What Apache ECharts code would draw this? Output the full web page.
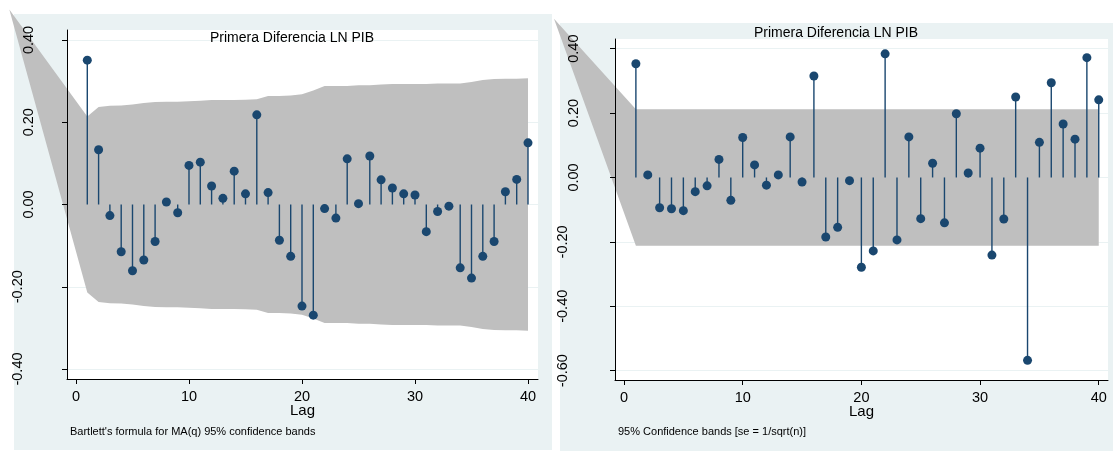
<!DOCTYPE html>
<html><head><meta charset="utf-8">
<script src="https://cdn.jsdelivr.net/npm/echarts@6/dist/echarts.min.js"></script>
<style>html,body{margin:0;padding:0;background:#fff}#c{width:1113px;height:454px}</style>
</head><body><div id="c"></div>
<script>
const FONT = '"Liberation Sans", Arial, sans-serif';
const chartTitle = 'Primera Diferencia LN PIB';
const noteLeft = "Bartlett's formula for MA(q) 95% confidence bands";
const noteRight = '95% Confidence bands [se = 1/sqrt(n)]';
const xName = 'Lag';
const lags = [1,2,3,4,5,6,7,8,9,10,11,12,13,14,15,16,17,18,19,20,21,22,23,24,25,26,27,28,29,30,31,32,33,34,35,36,37,38,39,40];
const acfValues = [0.351,0.133,-0.027,-0.115,-0.161,-0.135,-0.090,0.006,-0.020,0.095,0.103,0.045,0.015,0.081,0.026,0.218,0.029,-0.087,-0.126,-0.247,-0.269,-0.010,-0.033,0.111,0.002,0.118,0.060,0.040,0.026,0.023,-0.066,-0.017,-0.004,-0.154,-0.179,-0.126,-0.090,0.031,0.061,0.150];
const acfBand = [0.214,0.237,0.240,0.241,0.243,0.247,0.249,0.250,0.250,0.251,0.252,0.254,0.254,0.254,0.255,0.256,0.264,0.264,0.265,0.268,0.277,0.288,0.288,0.288,0.290,0.290,0.292,0.293,0.293,0.293,0.293,0.294,0.294,0.294,0.298,0.303,0.305,0.306,0.306,0.307];
const acfBandApex = [-5.9, 0.474];
const pacfValues = [0.353,0.008,-0.094,-0.097,-0.103,-0.044,-0.026,0.056,-0.071,0.124,0.039,-0.024,0.008,0.126,-0.014,0.315,-0.185,-0.155,-0.010,-0.279,-0.228,0.384,-0.194,0.126,-0.128,0.044,-0.141,0.198,0.014,0.091,-0.241,-0.129,0.250,-0.568,0.109,0.294,0.166,0.119,0.372,0.241];
const pacfBand = [0.212,0.212,0.212,0.212,0.212,0.212,0.212,0.212,0.212,0.212,0.212,0.212,0.212,0.212,0.212,0.212,0.212,0.212,0.212,0.212,0.212,0.212,0.212,0.212,0.212,0.212,0.212,0.212,0.212,0.212,0.212,0.212,0.212,0.212,0.212,0.212,0.212,0.212,0.212,0.212];
const pacfBandApex = [-5.9, 0.493];
const xTicks = [0,10,20,30,40];
const acfYTicks = [-0.4,-0.2,0,0.2,0.4];
const pacfYTicks = [-0.6,-0.4,-0.2,0,0.2,0.4];

const NAVY = '#1a476f';
const BG = '#eaf2f3';
const BAND = '#bfbfbf';

function bandSeries(gi, apex, band) {
  return {
    type: 'custom', xAxisIndex: gi, yAxisIndex: gi * 2, clip: false, silent: true, z: 1,
    data: [[0, 0]],
    renderItem: function (params, api) {
      const pts = [api.coord(apex)];
      for (let i = 0; i < lags.length; i++) pts.push(api.coord([lags[i], band[i]]));
      for (let i = lags.length - 1; i >= 0; i--) pts.push(api.coord([lags[i], -band[i]]));
      return { type: 'polygon', shape: { points: pts }, style: { fill: BAND } };
    }
  };
}
function stemSeries(gi, vals) {
  return {
    type: 'custom', xAxisIndex: gi, yAxisIndex: gi * 2, silent: true, z: 3,
    data: lags.map((l, i) => [l, vals[i]]),
    renderItem: function (params, api) {
      const a = api.coord([api.value(0), 0]);
      const b = api.coord([api.value(0), api.value(1)]);
      return { type: 'line', shape: { x1: a[0], y1: a[1], x2: b[0], y2: b[1] }, style: { stroke: NAVY, lineWidth: 1.4 } };
    }
  };
}
function dotSeries(gi, vals) {
  return {
    type: 'scatter', xAxisIndex: gi, yAxisIndex: gi * 2, silent: true, z: 4,
    symbolSize: 9, itemStyle: { color: NAVY, opacity: 1 },
    data: lags.map((l, i) => [l, vals[i]])
  };
}
function xAxisDef(gi, min, max) {
  return {
    type: 'value', gridIndex: gi, min: min, max: max, z: 5,
    name: xName, nameLocation: 'middle', nameGap: 24, nameMoveOverlap: false,
    nameTextStyle: { fontSize: 15, color: '#000', fontFamily: FONT },
    axisLine: { show: true, onZero: false, lineStyle: { color: '#000', width: 1 } },
    axisTick: { show: true, customValues: xTicks, length: 5, lineStyle: { color: '#000', width: 1 } },
    axisLabel: { show: true, customValues: xTicks, margin: 10, fontSize: 14.5, color: '#000', fontFamily: FONT },
    splitLine: { show: false }
  };
}
function yGridAxis(gi, min, max, ticks) {
  return {
    type: 'value', gridIndex: gi, min: min, max: max, position: 'left', z: 0,
    axisLine: { show: false }, axisLabel: { show: false },
    axisTick: { show: false, customValues: ticks },
    splitLine: { show: true, lineStyle: { color: BG, width: 1 } }
  };
}
function yLabelAxis(gi, min, max, ticks, margin) {
  return {
    type: 'value', gridIndex: gi, min: min, max: max, position: 'left', offset: 0, z: 5,
    axisLine: { show: true, onZero: false, lineStyle: { color: '#000', width: 1 } },
    axisTick: { show: true, customValues: ticks, length: 5, lineStyle: { color: '#000', width: 1 } },
    axisLabel: {
      show: true, customValues: ticks, rotate: 90, margin: margin,
      fontSize: 14.5, color: '#000', fontFamily: FONT,
      formatter: v => (v < 0 ? '{n|' + v.toFixed(2) + '}' : '{p|' + v.toFixed(2) + '}'),
      rich: {
        n: { fontSize: 14.5, color: '#000', fontFamily: FONT, padding: [0, 0, 11, 0] },
        p: { fontSize: 14.5, color: '#000', fontFamily: FONT }
      }
    },
    splitLine: { show: false }
  };
}

const chart = echarts.init(document.getElementById('c'), null, { renderer: 'canvas' });
chart.setOption({
  animation: false,
  backgroundColor: '#fff',
  graphic: [
    { type: 'rect', z: -100, shape: { x: 14, y: 14, width: 538, height: 436 }, style: { fill: BG } },
    { type: 'rect', z: -100, shape: { x: 560, y: 23, width: 553, height: 428 }, style: { fill: BG } },
    { type: 'text', z: 10, x: 292, y: 38, style: { text: chartTitle, textAlign: 'center', textVerticalAlign: 'middle', fontSize: 14, fontFamily: FONT, fill: '#000' } },
    { type: 'text', z: 10, x: 836, y: 33, style: { text: chartTitle, textAlign: 'center', textVerticalAlign: 'middle', fontSize: 14, fontFamily: FONT, fill: '#000' } },
    { type: 'text', z: 10, x: 70, y: 432, style: { text: noteLeft, textAlign: 'left', textVerticalAlign: 'middle', fontSize: 11, fontFamily: FONT, fill: '#000' } },
    { type: 'text', z: 10, x: 618, y: 432, style: { text: noteRight, textAlign: 'left', textVerticalAlign: 'middle', fontSize: 11, fontFamily: FONT, fill: '#000' } }
  ],
  grid: [
    { left: 67, top: 30, width: 471, height: 349, show: true, backgroundColor: '#fff', borderWidth: 0, outerBoundsMode: 'none', containLabel: false },
    { left: 615, top: 39, width: 493, height: 341, show: true, backgroundColor: '#fff', borderWidth: 0, outerBoundsMode: 'none', containLabel: false }
  ],
  xAxis: [ xAxisDef(0, -0.796, 40.885), xAxisDef(1, -0.76, 40.78) ],
  yAxis: [
    yGridAxis(0, -0.4243, 0.4243, acfYTicks),
    yLabelAxis(0, -0.4243, 0.4243, acfYTicks, 31),
    yGridAxis(1, -0.629, 0.430, pacfYTicks),
    yLabelAxis(1, -0.629, 0.430, pacfYTicks, 34)
  ],
  series: [
    bandSeries(0, acfBandApex, acfBand),
    stemSeries(0, acfValues),
    dotSeries(0, acfValues),
    bandSeries(1, pacfBandApex, pacfBand),
    stemSeries(1, pacfValues),
    dotSeries(1, pacfValues)
  ]
});
</script>
</body></html>
